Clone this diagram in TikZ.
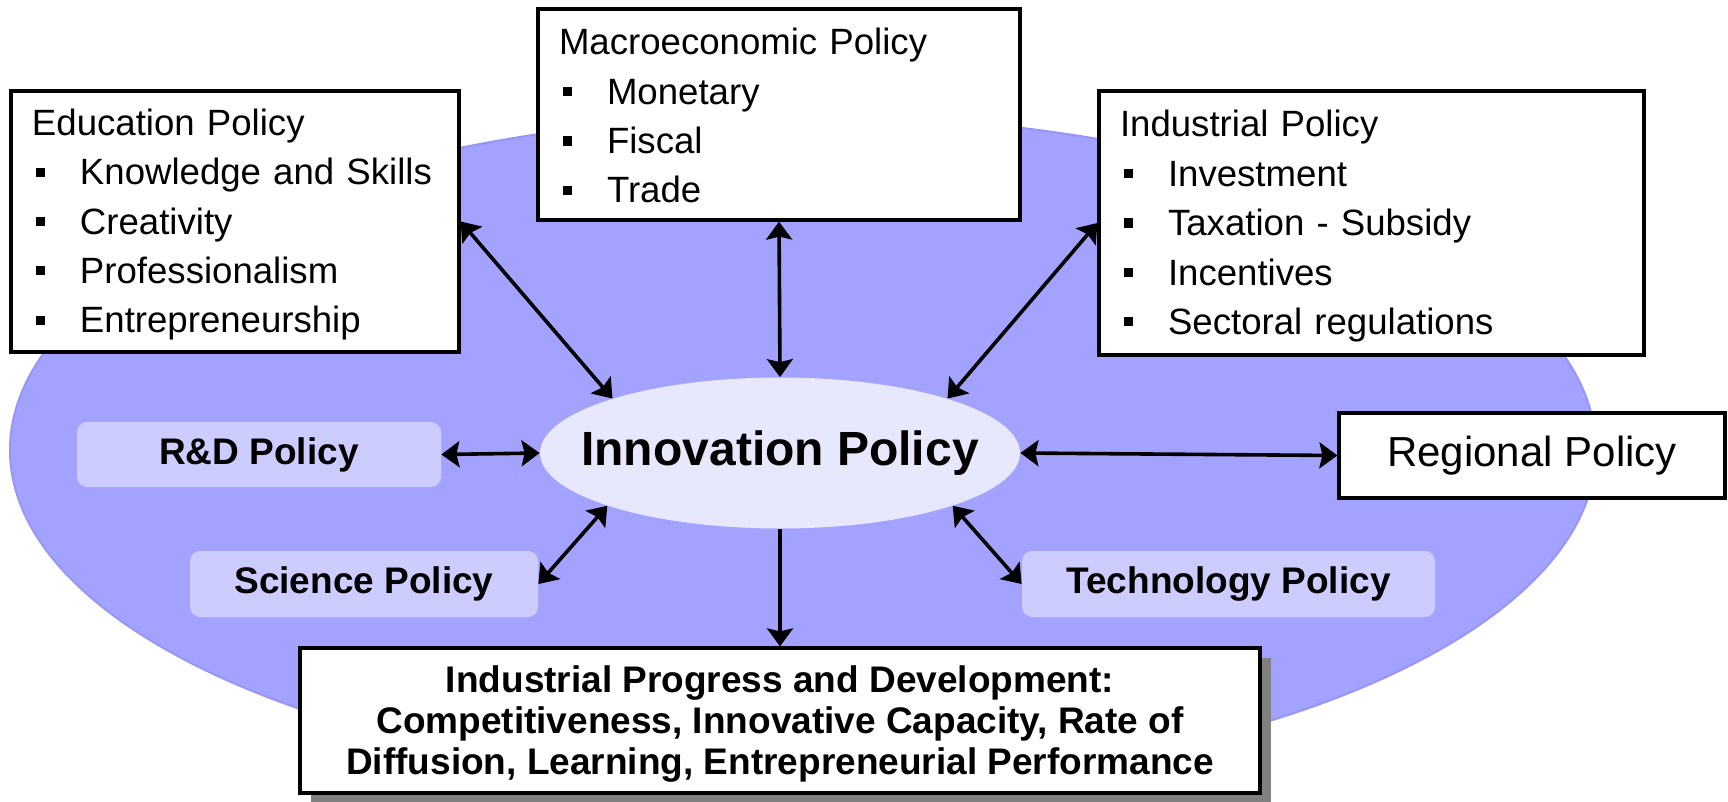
\documentclass[tikz,border=0pt]{standalone}
\usepackage{fontspec}
\setmainfont{Liberation Sans}
\usetikzlibrary{arrows.meta,shapes.geometric,shadows}
\definecolor{bigell}{RGB}{163,163,255}
\definecolor{bigedge}{RGB}{150,150,250}
\definecolor{innofill}{RGB}{232,232,252}
\definecolor{softbox}{RGB}{204,204,255}
\definecolor{shadowgray}{RGB}{128,128,128}
\newcommand{\itm}[1]{\makebox[24pt][l]{\hspace*{2pt}\rule[4pt]{4.6pt}{4.6pt}}#1}
\newcommand{\topstrut}{\rule{0pt}{16.4pt}}
\begin{document}
\begin{tikzpicture}[x=0.5pt,y=-0.5pt,
  pbox/.style={draw=black, line width=1.6pt, fill=white, rectangle, inner ysep=0pt, inner xsep=10.5pt, align=left, font=\fontsize{18.3}{24.7}\selectfont},
  softb/.style={fill=softbox, rounded corners=5pt, inner sep=0pt, font=\bfseries\fontsize{18.5}{22}\selectfont},
  link/.style={line width=1.8pt, {Stealth[length=9pt,width=13pt,inset=1.5pt]}-{Stealth[length=9pt,width=13pt,inset=1.5pt]}},
  oneway/.style={line width=1.8pt, -{Stealth[length=9pt,width=13pt,inset=1.5pt]}}]
\useasboundingbox (0,0) rectangle (1728,802);
% background ellipse
\path[fill=bigell, draw=bigedge, line width=1pt] (803,450) ellipse [x radius=793, y radius=335];

% policy boxes
\node[pbox, text width=203pt, minimum height=130.5pt] (edu) at (235,221.5)
  {\topstrut Education Policy\\\itm{Knowledge and Skills}\\\itm{Creativity}\\\itm{Professionalism}\\\itm{Entrepreneurship}};
\node[pbox, text width=220pt, minimum height=105.5pt] (macro) at (779,114.5)
  {\rule{0pt}{14.5pt}Macroeconomic Policy\\\itm{Monetary}\\\itm{Fiscal}\\\itm{Trade}};
\node[pbox, text width=251.5pt, minimum height=132pt] (indust) at (1371.5,223)
  {\topstrut Industrial Policy\\\itm{Investment}\\\itm{Taxation - Subsidy}\\\itm{Incentives}\\\itm{Sectoral regulations}};
\node[draw=black, line width=1.6pt, fill=white, minimum width=193pt, minimum height=42.5pt, inner sep=0pt,
  font=\fontsize{21}{25}\selectfont] (reg) at (1532,455.5) {Regional Policy};

% central ellipse
\node[ellipse, fill=innofill, minimum width=240pt, minimum height=75.5pt, inner sep=0pt,
  font=\bfseries\fontsize{24}{28}\selectfont] (inno) at (780,453) {\makebox[0pt]{Innovation Policy}};

% soft boxes
\node[softb, minimum width=182pt, minimum height=32.5pt] (rd) at (259,454.5) {R\&D Policy};
\node[softb, minimum width=174pt, minimum height=33pt] (sci) at (364,584) {Science Policy};
\node[softb, minimum width=206.5pt, minimum height=33pt] (tech) at (1228.5,584) {Technology Policy};

% outcome box
\node[draw=black, line width=1.6pt, fill=white, minimum width=480pt, minimum height=72.5pt, inner sep=0pt,
  align=center, font=\bfseries\fontsize{18.5}{20.5}\selectfont,
  drop shadow={shadow xshift=5.5pt, shadow yshift=-5pt, fill=shadowgray, opacity=1}] (outc) at (780,720.5)
  {\rule{0pt}{16.6pt}Industrial Progress and Development:\\Competitiveness, Innovative Capacity, Rate of\\Diffusion, Learning, Entrepreneurial Performance};

% connectors
\draw[link] (edu.east) -- (inno.162);
\draw[link] (macro.south) -- (inno.north);
\draw[link] (indust.west) -- (inno.18);
\draw[link] (rd.east) -- (inno.west);
\draw[link] (inno.east) -- (reg.west);
\draw[link] (sci.east) -- (inno.197);
\draw[link] (tech.west) -- (inno.343);
\draw[oneway] (inno.south) -- (outc.north);
\end{tikzpicture}
\end{document}
